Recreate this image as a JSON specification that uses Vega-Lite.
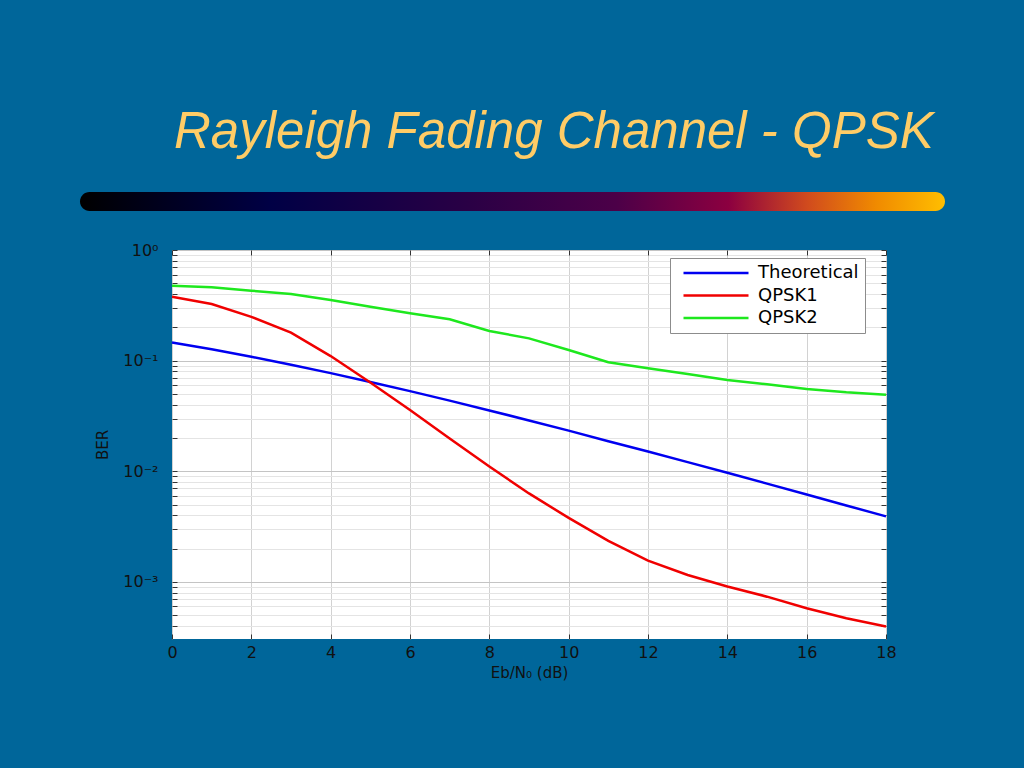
{
  "$schema": "https://vega.github.io/schema/vega-lite/v6.json",
  "width": 714,
  "height": 389,
  "autosize": {"type": "none"},
  "padding": {"left": 172, "top": 250, "right": 138, "bottom": 129},
  "background": "#00669a",
  "title": {
    "text": "Rayleigh Fading Channel - QPSK",
    "anchor": "start",
    "frame": "group",
    "orient": "top",
    "font": "Liberation Sans",
    "fontSize": 51,
    "fontStyle": "italic",
    "fontWeight": "normal",
    "color": "#FFCC66",
    "baseline": "alphabetic",
    "offset": -7,
    "dx": 2
  },
  "config": {
    "view": {"fill": "white", "stroke": null},
    "font": "DejaVu Sans"
  },
  "resolve": {"axis": {"x": "independent", "y": "independent"}},
  "datasets": {
    "ber": [
      {"snr": 0, "ber": 0.146, "series": "Theoretical"},
      {"snr": 1, "ber": 0.1267, "series": "Theoretical"},
      {"snr": 2, "ber": 0.1085, "series": "Theoretical"},
      {"snr": 3, "ber": 0.0919, "series": "Theoretical"},
      {"snr": 4, "ber": 0.0771, "series": "Theoretical"},
      {"snr": 5, "ber": 0.0642, "series": "Theoretical"},
      {"snr": 6, "ber": 0.053, "series": "Theoretical"},
      {"snr": 7, "ber": 0.0435, "series": "Theoretical"},
      {"snr": 8, "ber": 0.0355, "series": "Theoretical"},
      {"snr": 9, "ber": 0.0288, "series": "Theoretical"},
      {"snr": 10, "ber": 0.0233, "series": "Theoretical"},
      {"snr": 11, "ber": 0.0187, "series": "Theoretical"},
      {"snr": 12, "ber": 0.0151, "series": "Theoretical"},
      {"snr": 13, "ber": 0.0121, "series": "Theoretical"},
      {"snr": 14, "ber": 0.0097, "series": "Theoretical"},
      {"snr": 15, "ber": 0.00774, "series": "Theoretical"},
      {"snr": 16, "ber": 0.00617, "series": "Theoretical"},
      {"snr": 17, "ber": 0.00491, "series": "Theoretical"},
      {"snr": 18, "ber": 0.00391, "series": "Theoretical"},
      {"snr": 0, "ber": 0.378, "series": "QPSK1"},
      {"snr": 1, "ber": 0.325, "series": "QPSK1"},
      {"snr": 2, "ber": 0.249, "series": "QPSK1"},
      {"snr": 3, "ber": 0.179, "series": "QPSK1"},
      {"snr": 4, "ber": 0.11, "series": "QPSK1"},
      {"snr": 5, "ber": 0.0635, "series": "QPSK1"},
      {"snr": 6, "ber": 0.0358, "series": "QPSK1"},
      {"snr": 7, "ber": 0.0198, "series": "QPSK1"},
      {"snr": 8, "ber": 0.01106, "series": "QPSK1"},
      {"snr": 9, "ber": 0.00631, "series": "QPSK1"},
      {"snr": 10, "ber": 0.00379, "series": "QPSK1"},
      {"snr": 11, "ber": 0.00235, "series": "QPSK1"},
      {"snr": 12, "ber": 0.00156, "series": "QPSK1"},
      {"snr": 13, "ber": 0.001156, "series": "QPSK1"},
      {"snr": 14, "ber": 0.00091, "series": "QPSK1"},
      {"snr": 15, "ber": 0.000736, "series": "QPSK1"},
      {"snr": 16, "ber": 0.000578, "series": "QPSK1"},
      {"snr": 17, "ber": 0.00047, "series": "QPSK1"},
      {"snr": 18, "ber": 0.000395, "series": "QPSK1"},
      {"snr": 0, "ber": 0.476, "series": "QPSK2"},
      {"snr": 1, "ber": 0.46, "series": "QPSK2"},
      {"snr": 2, "ber": 0.429, "series": "QPSK2"},
      {"snr": 3, "ber": 0.4, "series": "QPSK2"},
      {"snr": 4, "ber": 0.353, "series": "QPSK2"},
      {"snr": 5, "ber": 0.307, "series": "QPSK2"},
      {"snr": 6, "ber": 0.268, "series": "QPSK2"},
      {"snr": 7, "ber": 0.2366, "series": "QPSK2"},
      {"snr": 8, "ber": 0.1855, "series": "QPSK2"},
      {"snr": 9, "ber": 0.159, "series": "QPSK2"},
      {"snr": 10, "ber": 0.1248, "series": "QPSK2"},
      {"snr": 11, "ber": 0.0967, "series": "QPSK2"},
      {"snr": 12, "ber": 0.0853, "series": "QPSK2"},
      {"snr": 13, "ber": 0.0758, "series": "QPSK2"},
      {"snr": 14, "ber": 0.0669, "series": "QPSK2"},
      {"snr": 15, "ber": 0.0612, "series": "QPSK2"},
      {"snr": 16, "ber": 0.0555, "series": "QPSK2"},
      {"snr": 17, "ber": 0.0518, "series": "QPSK2"},
      {"snr": 18, "ber": 0.0493, "series": "QPSK2"}
    ]
  },
  "layer": [
    {
      "data": {"name": "ber"},
      "mark": {"type": "line", "strokeWidth": 2.5},
      "encoding": {
        "x": {
          "field": "snr",
          "type": "quantitative",
          "scale": {"domain": [0, 18], "nice": false, "zero": false},
          "axis": {
            "orient": "bottom",
            "title": "Eb/N₀ (dB)",
            "values": [0, 2, 4, 6, 8, 10, 12, 14, 16, 18],
            "grid": true,
            "gridColor": "#d2d2d2",
            "gridWidth": 1,
            "domain": false,
            "tickSize": -5,
            "tickColor": "#333333",
            "labelPadding": 10,
            "labelFontSize": 16,
            "labelColor": "#111111",
            "labelFont": "DejaVu Sans",
            "labelFlush": false,
            "titleFontSize": 15,
            "titleFontWeight": "normal",
            "titleColor": "#111111",
            "titleFont": "DejaVu Sans",
            "titlePadding": 5
          }
        },
        "y": {
          "field": "ber",
          "type": "quantitative",
          "scale": {"type": "log", "domain": [0.000305, 1], "nice": false},
          "axis": {
            "orient": "left",
            "title": "BER",
            "values": [1, 0.9, 0.8, 0.7, 0.6, 0.5, 0.4, 0.3, 0.2, 0.1, 0.09, 0.08, 0.07, 0.06, 0.05, 0.04, 0.03, 0.02, 0.01, 0.009, 0.008, 0.007, 0.006, 0.005, 0.004, 0.003, 0.002, 0.001, 0.0009, 0.0008, 0.0007, 0.0006, 0.0005, 0.0004],
            "labelExpr": "abs(datum.value-1)<1e-9 ? '10⁰' : abs(datum.value-0.1)<1e-9 ? '10⁻¹' : abs(datum.value-0.01)<1e-10 ? '10⁻²' : abs(datum.value-0.001)<1e-11 ? '10⁻³' : ''",
            "labelOverlap": false,
            "labelFlush": false,
            "grid": true,
            "gridColor": {"condition": {"test": "abs(log(datum.value)/LN10 - round(log(datum.value)/LN10)) < 1e-6", "value": "#c4c4c4"}, "value": "#e4e4e4"},
            "gridWidth": 1,
            "domain": false,
            "tickSize": -5,
            "tickColor": "#333333",
            "labelPadding": 19,
            "labelFontSize": 16,
            "labelColor": "#111111",
            "labelFont": "DejaVu Sans",
            "labelBaseline": "middle",
            "titleFontSize": 15,
            "titleFontWeight": "normal",
            "titleColor": "#111111",
            "titleFont": "DejaVu Sans",
            "titlePadding": 12
          }
        },
        "color": {
          "field": "series",
          "type": "nominal",
          "scale": {"domain": ["Theoretical", "QPSK1", "QPSK2"], "range": ["#0000f0", "#f00000", "#1ee81e"]},
          "legend": {
            "title": null,
            "orient": "none",
            "legendX": 498,
            "legendY": 8,
            "fillColor": "white",
            "strokeColor": "#8c8c8c",
            "padding": 6,
            "symbolType": "M-4.643,0H4.643",
            "symbolSize": 196,
            "symbolOffset": 31,
            "symbolStrokeWidth": 2.5,
            "labelFontSize": 18,
            "labelFont": "DejaVu Sans",
            "labelColor": "#000000",
            "labelOffset": 33,
            "rowPadding": 4.5
          }
        }
      }
    },
    {
      "data": {"name": "ber"},
      "mark": {"type": "line", "opacity": 0},
      "encoding": {
        "x": {
          "field": "snr",
          "type": "quantitative",
          "axis": {
            "orient": "top",
            "title": null,
            "values": [0, 2, 4, 6, 8, 10, 12, 14, 16, 18],
            "labels": false,
            "grid": false,
            "domain": false,
            "tickSize": -5,
            "tickColor": "#333333"
          }
        },
        "y": {
          "field": "ber",
          "type": "quantitative",
          "axis": {
            "orient": "right",
            "title": null,
            "values": [1, 0.9, 0.8, 0.7, 0.6, 0.5, 0.4, 0.3, 0.2, 0.1, 0.09, 0.08, 0.07, 0.06, 0.05, 0.04, 0.03, 0.02, 0.01, 0.009, 0.008, 0.007, 0.006, 0.005, 0.004, 0.003, 0.002, 0.001, 0.0009, 0.0008, 0.0007, 0.0006, 0.0005, 0.0004],
            "labels": false,
            "grid": false,
            "domain": false,
            "tickSize": -5,
            "tickColor": "#333333"
          }
        },
        "detail": {"field": "series"}
      }
    },
    {
      "data": {"values": [{}]},
      "mark": {
        "type": "rect",
        "clip": false,
        "cornerRadius": 9.5,
        "fill": {
          "gradient": "linear",
          "x1": 0, "y1": 0, "x2": 1, "y2": 0,
          "stops": [
            {"offset": 0, "color": "#000000"},
            {"offset": 0.22, "color": "#000045"},
            {"offset": 0.45, "color": "#2a0045"},
            {"offset": 0.62, "color": "#4c0048"},
            {"offset": 0.75, "color": "#8c0040"},
            {"offset": 0.84, "color": "#d04a1e"},
            {"offset": 0.92, "color": "#f08a00"},
            {"offset": 1, "color": "#ffbe00"}
          ]
        }
      },
      "encoding": {
        "x": {"datum": -2.319, "type": "quantitative", "axis": null},
        "x2": {"datum": 19.487},
        "y": {"datum": 3.342, "type": "quantitative", "axis": null},
        "y2": {"datum": 2.251}
      }
    }
  ]
}
